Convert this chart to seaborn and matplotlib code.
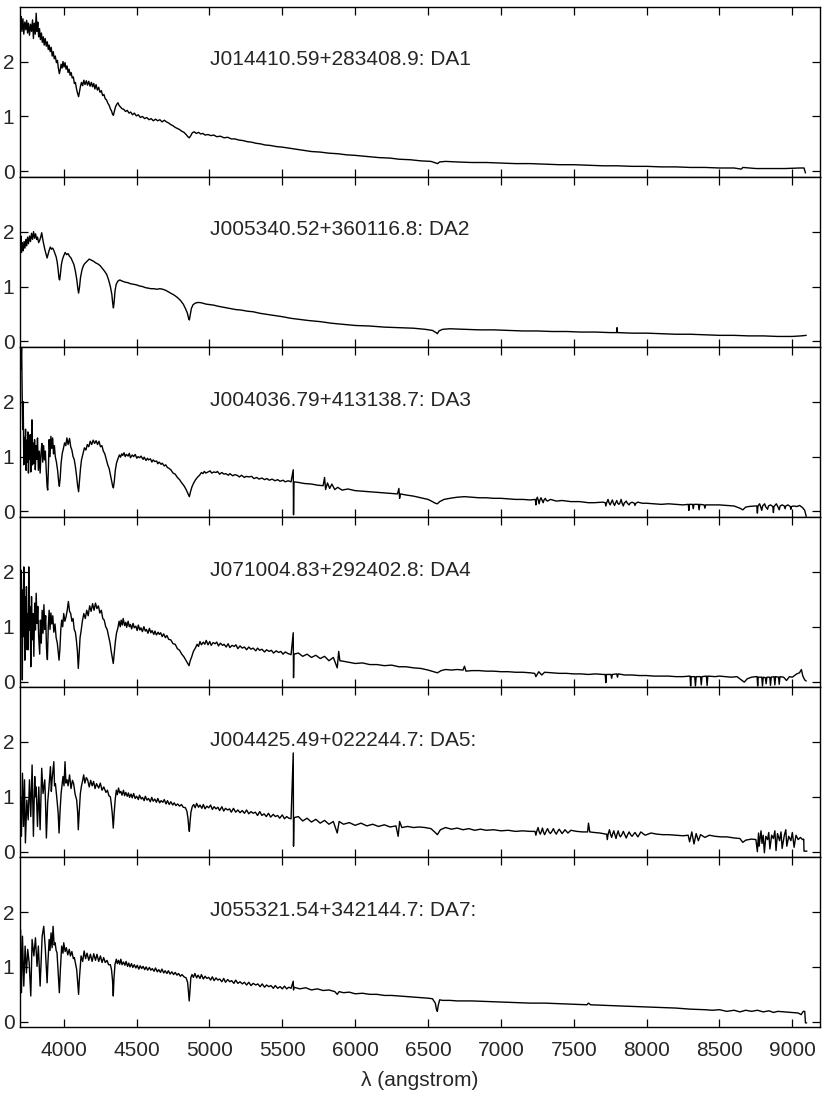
"""
Six stacked white-dwarf spectra (DA1 ... DA7), flux vs wavelength.
Writes out.png
"""
import matplotlib.pyplot as plt
import seaborn as sns

# --- data: (wavelength [A], flux) -------------------------------------------
names = [
    "J014410.59+283408.9: DA1",
    "J005340.52+360116.8: DA2",
    "J004036.79+413138.7: DA3",
    "J071004.83+292402.8: DA4",
    "J004425.49+022244.7: DA5:",
    "J055321.54+342144.7: DA7:",
]

da1 = [
    (3703, 2.70), (3708, 2.82), (3713, 2.55), (3720, 2.78), (3726, 2.50), (3733, 2.72),
    (3740, 2.58), (3746, 2.75), (3752, 2.52), (3758, 2.70), (3765, 2.48), (3772, 2.68),
    (3779, 2.55), (3786, 2.76), (3792, 2.42), (3798, 2.70), (3805, 2.50), (3811, 2.88),
    (3817, 2.55), (3822, 2.72), (3828, 2.45), (3834, 2.60), (3840, 2.40), (3847, 2.52),
    (3853, 2.35), (3860, 2.45), (3866, 2.30), (3873, 2.42), (3880, 2.28), (3887, 2.36),
    (3894, 2.22), (3900, 2.30), (3907, 2.18), (3914, 2.26), (3921, 2.10), (3928, 2.18),
    (3935, 2.05), (3942, 2.10), (3950, 1.98), (3957, 2.02), (3963, 1.88), (3970, 1.78),
    (3976, 1.85), (3982, 1.95), (3989, 1.88), (3995, 2.00), (4002, 1.90), (4009, 1.98),
    (4016, 1.86), (4023, 1.92), (4030, 1.80), (4037, 1.86), (4044, 1.75), (4051, 1.80),
    (4058, 1.70), (4066, 1.72), (4073, 1.60), (4080, 1.62), (4088, 1.50), (4095, 1.42),
    (4102, 1.36), (4108, 1.45), (4115, 1.55), (4122, 1.62), (4130, 1.56), (4138, 1.66),
    (4146, 1.58), (4155, 1.65), (4163, 1.57), (4172, 1.64), (4181, 1.55), (4190, 1.62),
    (4198, 1.54), (4206, 1.60), (4214, 1.50), (4222, 1.58), (4231, 1.48), (4240, 1.53),
    (4249, 1.44), (4258, 1.47), (4267, 1.38), (4276, 1.40), (4285, 1.32), (4294, 1.30),
    (4303, 1.24), (4312, 1.20), (4320, 1.14), (4328, 1.10), (4335, 1.04), (4341, 1.02),
    (4348, 1.10), (4356, 1.18), (4364, 1.22), (4372, 1.25), (4380, 1.20), (4390, 1.17),
    (4400, 1.14), (4412, 1.13), (4424, 1.09), (4436, 1.11), (4448, 1.06), (4460, 1.08),
    (4472, 1.03), (4485, 1.06), (4498, 1.01), (4512, 1.03), (4526, 0.98), (4540, 1.00),
    (4555, 0.96), (4570, 0.98), (4585, 0.94), (4600, 0.96), (4615, 0.92), (4630, 0.95),
    (4645, 0.92), (4660, 0.94), (4675, 0.90), (4690, 0.93), (4705, 0.90), (4720, 0.88),
    (4735, 0.85), (4750, 0.83), (4765, 0.80), (4780, 0.78), (4795, 0.76), (4810, 0.73),
    (4825, 0.71), (4840, 0.67), (4852, 0.63), (4862, 0.61), (4872, 0.65), (4882, 0.70),
    (4895, 0.72), (4910, 0.69), (4925, 0.71), (4940, 0.68), (4955, 0.69), (4970, 0.66),
    (4990, 0.67), (5010, 0.65), (5030, 0.66), (5050, 0.63), (5075, 0.64), (5100, 0.61),
    (5125, 0.62), (5150, 0.59), (5175, 0.59), (5200, 0.57), (5230, 0.56), (5260, 0.54),
    (5290, 0.53), (5320, 0.51), (5350, 0.50), (5380, 0.48), (5420, 0.47), (5460, 0.45),
    (5500, 0.44), (5550, 0.42), (5600, 0.40), (5650, 0.38), (5700, 0.36), (5760, 0.35),
    (5820, 0.33), (5880, 0.32), (5940, 0.30), (6000, 0.29), (6080, 0.27), (6160, 0.25),
    (6240, 0.24), (6300, 0.22), (6380, 0.21), (6450, 0.19), (6520, 0.18), (6555, 0.15),
    (6565, 0.14), (6580, 0.17), (6620, 0.18), (6700, 0.17), (6800, 0.16), (6900, 0.16),
    (7000, 0.15), (7100, 0.14), (7200, 0.14), (7300, 0.13), (7400, 0.12), (7500, 0.12),
    (7600, 0.11), (7700, 0.10), (7800, 0.10), (7900, 0.09), (8000, 0.09), (8100, 0.08),
    (8200, 0.08), (8300, 0.07), (8400, 0.07), (8500, 0.06), (8600, 0.06), (8650, 0.04),
    (8660, 0.07), (8750, 0.05), (8850, 0.05), (8950, 0.05), (9050, 0.06), (9080, 0.06),
    (9090, -0.03),
]

da2 = [
    (3703, 1.72), (3706, 1.92), (3710, 1.62), (3716, 1.80), (3722, 1.65), (3728, 1.82),
    (3734, 1.70), (3740, 1.86), (3746, 1.74), (3752, 1.90), (3758, 1.78), (3765, 1.92),
    (3772, 1.82), (3779, 1.97), (3786, 1.86), (3793, 2.00), (3800, 1.88), (3807, 1.96),
    (3814, 1.86), (3820, 1.90), (3828, 1.80), (3835, 1.84), (3842, 1.90), (3849, 1.98),
    (3855, 1.88), (3862, 1.78), (3870, 1.68), (3878, 1.60), (3886, 1.52), (3892, 1.58),
    (3900, 1.66), (3908, 1.72), (3916, 1.68), (3924, 1.70), (3932, 1.66), (3940, 1.60),
    (3948, 1.54), (3955, 1.45), (3962, 1.30), (3968, 1.14), (3972, 1.12), (3977, 1.22),
    (3984, 1.40), (3992, 1.50), (4000, 1.56), (4010, 1.62), (4020, 1.58), (4030, 1.60),
    (4040, 1.55), (4050, 1.52), (4060, 1.46), (4070, 1.40), (4080, 1.28), (4090, 1.12),
    (4097, 0.96), (4102, 0.88), (4108, 0.98), (4115, 1.16), (4125, 1.30), (4135, 1.38),
    (4145, 1.42), (4160, 1.46), (4175, 1.50), (4190, 1.48), (4205, 1.46), (4220, 1.43),
    (4235, 1.41), (4250, 1.38), (4265, 1.33), (4280, 1.28), (4295, 1.22), (4308, 1.12),
    (4320, 1.00), (4330, 0.86), (4336, 0.70), (4341, 0.61), (4346, 0.72), (4352, 0.92),
    (4360, 1.04), (4372, 1.10), (4385, 1.12), (4400, 1.10), (4420, 1.08), (4440, 1.07),
    (4460, 1.05), (4480, 1.04), (4500, 1.03), (4520, 1.01), (4540, 1.00), (4560, 0.98),
    (4580, 0.97), (4600, 0.96), (4620, 0.96), (4640, 0.95), (4660, 0.96), (4680, 0.95),
    (4700, 0.93), (4720, 0.90), (4740, 0.87), (4760, 0.84), (4780, 0.80), (4800, 0.75),
    (4820, 0.68), (4835, 0.60), (4848, 0.52), (4857, 0.42), (4862, 0.39), (4868, 0.48),
    (4876, 0.60), (4888, 0.67), (4905, 0.70), (4925, 0.71), (4950, 0.70), (4975, 0.68),
    (5000, 0.67), (5030, 0.66), (5060, 0.64), (5100, 0.62), (5140, 0.60), (5180, 0.58),
    (5220, 0.57), (5260, 0.55), (5300, 0.54), (5350, 0.51), (5400, 0.49), (5450, 0.47),
    (5500, 0.45), (5560, 0.42), (5620, 0.40), (5680, 0.38), (5760, 0.36), (5840, 0.33),
    (5920, 0.31), (6000, 0.29), (6100, 0.28), (6200, 0.26), (6300, 0.25), (6400, 0.24),
    (6480, 0.22), (6530, 0.20), (6555, 0.16), (6564, 0.14), (6575, 0.19), (6600, 0.22),
    (6650, 0.23), (6750, 0.22), (6850, 0.21), (6950, 0.21), (7050, 0.20), (7150, 0.19),
    (7250, 0.19), (7350, 0.18), (7450, 0.18), (7550, 0.17), (7650, 0.17), (7750, 0.16),
    (7795, 0.16), (7797, 0.25), (7800, 0.16), (7900, 0.15), (8000, 0.15), (8100, 0.14),
    (8200, 0.13), (8300, 0.13), (8400, 0.12), (8500, 0.11), (8600, 0.11), (8700, 0.10),
    (8800, 0.10), (8900, 0.09), (9000, 0.09), (9060, 0.10), (9095, 0.11),
]

da3 = [
    (3703, 3.30), (3707, 2.60), (3711, 3.10), (3715, 2.10), (3719, 1.50), (3722, 2.00),
    (3726, 0.85), (3730, 1.35), (3734, 0.95), (3738, 1.50), (3742, 0.75), (3746, 1.30),
    (3750, 0.90), (3754, 1.45), (3758, 0.70), (3762, 1.20), (3766, 0.95), (3770, 1.40),
    (3774, 0.72), (3778, 1.15), (3782, 1.67), (3786, 0.85), (3790, 1.25), (3795, 0.88),
    (3800, 1.31), (3805, 0.76), (3810, 1.20), (3815, 0.95), (3820, 1.34), (3826, 0.75),
    (3832, 1.10), (3838, 0.70), (3844, 1.05), (3850, 1.24), (3856, 0.90), (3862, 1.20),
    (3868, 0.94), (3874, 1.10), (3880, 0.75), (3886, 0.45), (3890, 0.39), (3895, 0.80),
    (3900, 1.31), (3906, 1.00), (3912, 1.37), (3918, 1.15), (3924, 1.34), (3930, 1.05),
    (3936, 1.20), (3942, 1.00), (3950, 0.90), (3958, 0.75), (3965, 0.55), (3970, 0.46),
    (3976, 0.62), (3982, 0.88), (3990, 1.06), (3998, 1.15), (4006, 1.25), (4014, 1.20),
    (4022, 1.34), (4030, 1.22), (4040, 1.33), (4048, 1.18), (4056, 1.12), (4064, 1.00),
    (4072, 0.95), (4080, 0.82), (4088, 0.65), (4095, 0.48), (4102, 0.36), (4108, 0.55),
    (4115, 0.78), (4122, 0.94), (4132, 1.05), (4142, 1.16), (4152, 1.12), (4162, 1.22),
    (4172, 1.18), (4182, 1.28), (4192, 1.22), (4202, 1.30), (4212, 1.24), (4222, 1.29),
    (4232, 1.22), (4242, 1.28), (4252, 1.18), (4262, 1.20), (4272, 1.10), (4282, 1.05),
    (4292, 0.95), (4302, 0.85), (4312, 0.78), (4322, 0.65), (4330, 0.55), (4336, 0.46),
    (4341, 0.43), (4347, 0.55), (4354, 0.75), (4362, 0.88), (4372, 0.96), (4382, 1.03),
    (4390, 0.99), (4398, 1.05), (4405, 1.02), (4414, 1.07), (4422, 1.00), (4430, 1.04),
    (4442, 1.01), (4450, 1.06), (4458, 0.98), (4470, 1.03), (4480, 1.00), (4490, 1.04),
    (4502, 0.97), (4510, 1.00), (4522, 0.98), (4530, 1.01), (4545, 0.95), (4552, 0.99),
    (4565, 0.93), (4575, 0.97), (4582, 0.94), (4595, 0.96), (4605, 0.90), (4614, 0.94),
    (4625, 0.91), (4638, 0.92), (4645, 0.87), (4655, 0.90), (4668, 0.86), (4676, 0.88),
    (4690, 0.83), (4700, 0.85), (4712, 0.80), (4720, 0.79), (4735, 0.76), (4750, 0.70),
    (4765, 0.68), (4780, 0.62), (4795, 0.58), (4810, 0.52), (4825, 0.47), (4840, 0.40),
    (4852, 0.33), (4862, 0.27), (4870, 0.36), (4880, 0.45), (4892, 0.52), (4905, 0.58),
    (4920, 0.63), (4932, 0.66), (4945, 0.71), (4955, 0.69), (4965, 0.73), (4975, 0.70),
    (4990, 0.72), (5005, 0.74), (5015, 0.70), (5030, 0.72), (5045, 0.71), (5055, 0.73),
    (5070, 0.68), (5085, 0.71), (5100, 0.68), (5112, 0.69), (5130, 0.66), (5140, 0.69),
    (5160, 0.65), (5172, 0.67), (5190, 0.66), (5205, 0.63), (5220, 0.66), (5240, 0.62),
    (5252, 0.64), (5270, 0.63), (5290, 0.64), (5305, 0.60), (5325, 0.62), (5340, 0.59),
    (5360, 0.61), (5378, 0.58), (5395, 0.60), (5410, 0.57), (5430, 0.59), (5450, 0.56),
    (5468, 0.58), (5485, 0.55), (5505, 0.57), (5520, 0.54), (5540, 0.56), (5560, 0.54),
    (5575, 0.76), (5577, -0.06), (5580, 0.54), (5610, 0.53), (5650, 0.51), (5700, 0.50),
    (5740, 0.48), (5780, 0.47), (5790, 0.62), (5797, 0.40), (5810, 0.52), (5825, 0.42),
    (5840, 0.50), (5860, 0.40), (5880, 0.44), (5910, 0.39), (5950, 0.41), (6000, 0.38),
    (6050, 0.37), (6100, 0.36), (6150, 0.35), (6200, 0.34), (6250, 0.33), (6290, 0.32),
    (6300, 0.42), (6305, 0.24), (6310, 0.32), (6350, 0.30), (6400, 0.28), (6450, 0.25),
    (6500, 0.22), (6530, 0.18), (6550, 0.15), (6564, 0.14), (6580, 0.18), (6610, 0.22),
    (6650, 0.24), (6700, 0.26), (6750, 0.27), (6800, 0.26), (6850, 0.25), (6900, 0.25),
    (6950, 0.24), (7000, 0.24), (7050, 0.23), (7100, 0.22), (7150, 0.22), (7200, 0.21),
    (7230, 0.22), (7236, 0.22), (7240, 0.12), (7244, 0.22), (7250, 0.26), (7256, 0.21),
    (7262, 0.14), (7268, 0.21), (7275, 0.25), (7282, 0.21), (7290, 0.16), (7296, 0.21),
    (7305, 0.24), (7312, 0.20), (7320, 0.19), (7340, 0.22), (7380, 0.19), (7420, 0.20),
    (7480, 0.18), (7540, 0.18), (7600, 0.16), (7640, 0.16), (7700, 0.17), (7716, 0.16),
    (7720, 0.10), (7726, 0.16), (7735, 0.22), (7742, 0.16), (7750, 0.12), (7756, 0.16),
    (7765, 0.21), (7772, 0.15), (7780, 0.11), (7786, 0.15), (7795, 0.20), (7802, 0.15),
    (7810, 0.13), (7816, 0.15), (7825, 0.22), (7832, 0.15), (7840, 0.10), (7846, 0.15),
    (7860, 0.19), (7868, 0.15), (7880, 0.12), (7886, 0.15), (7900, 0.17), (7915, 0.15),
    (7920, 0.11), (7926, 0.15), (7940, 0.17), (7970, 0.15), (8000, 0.15), (8050, 0.14),
    (8100, 0.13), (8150, 0.14), (8200, 0.13), (8250, 0.12), (8280, 0.13), (8286, 0.13),
    (8290, 0.02), (8294, 0.13), (8315, 0.13), (8320, 0.05), (8325, 0.13), (8355, 0.13),
    (8360, 0.03), (8365, 0.13), (8395, 0.12), (8400, 0.06), (8405, 0.12), (8450, 0.12),
    (8500, 0.12), (8550, 0.11), (8600, 0.10), (8640, 0.06), (8660, 0.03), (8680, 0.08),
    (8700, 0.09), (8740, 0.10), (8756, 0.10), (8760, -0.03), (8764, 0.10), (8775, 0.14),
    (8782, 0.09), (8790, 0.02), (8796, 0.10), (8810, 0.14), (8816, 0.09), (8830, 0.04),
    (8836, 0.10), (8850, 0.12), (8866, 0.09), (8870, -0.02), (8874, 0.09), (8890, 0.14),
    (8898, 0.10), (8910, 0.03), (8916, 0.10), (8930, 0.12), (8945, 0.10), (8950, 0.05),
    (8955, 0.10), (8970, 0.12), (8986, 0.09), (8990, 0.04), (8994, 0.09), (9010, 0.10),
    (9030, 0.09), (9050, 0.11), (9070, 0.07), (9085, 0.02), (9095, -0.09),
]

da4 = [
    (3703, 1.85), (3706, 0.82), (3709, 2.03), (3712, 1.31), (3716, 0.03), (3719, 1.67),
    (3722, 0.82), (3726, 2.09), (3730, 1.12), (3733, 0.39), (3737, 1.55), (3741, 0.82),
    (3744, 1.73), (3749, 0.58), (3753, 1.24), (3757, 0.58), (3760, 2.09), (3765, 0.94),
    (3770, 1.37), (3774, 0.27), (3779, 1.55), (3784, 0.76), (3790, 1.24), (3795, 0.46),
    (3801, 1.43), (3806, 0.94), (3811, 1.61), (3817, 1.06), (3822, 1.37), (3828, 0.82),
    (3835, 0.50), (3840, 1.12), (3846, 0.70), (3852, 1.30), (3858, 0.88), (3864, 1.40),
    (3870, 0.95), (3876, 1.20), (3882, 0.60), (3888, 0.40), (3894, 1.00), (3900, 1.30),
    (3906, 0.95), (3912, 1.25), (3918, 1.05), (3925, 1.20), (3932, 0.90), (3940, 1.05),
    (3948, 0.80), (3956, 0.70), (3962, 0.55), (3968, 0.39), (3974, 0.60), (3980, 0.95),
    (3986, 1.12), (3993, 1.00), (4000, 1.24), (4008, 1.10), (4016, 1.18), (4024, 1.30),
    (4032, 1.46), (4040, 1.28), (4048, 1.24), (4056, 1.10), (4064, 1.15), (4072, 0.95),
    (4080, 0.90), (4087, 0.75), (4094, 0.55), (4100, 0.24), (4106, 0.50), (4112, 0.80),
    (4118, 0.90), (4128, 1.10), (4138, 1.24), (4148, 1.15), (4158, 1.30), (4168, 1.20),
    (4178, 1.38), (4188, 1.28), (4198, 1.42), (4208, 1.30), (4218, 1.43), (4228, 1.33),
    (4238, 1.38), (4248, 1.25), (4258, 1.30), (4268, 1.15), (4278, 1.12), (4288, 1.00),
    (4298, 0.95), (4308, 0.82), (4318, 0.70), (4326, 0.55), (4334, 0.42), (4340, 0.33),
    (4346, 0.50), (4354, 0.72), (4362, 0.88), (4372, 0.98), (4380, 1.10), (4388, 1.00),
    (4394, 1.12), (4402, 1.03), (4408, 1.15), (4418, 1.02), (4426, 1.08), (4432, 0.99),
    (4442, 1.10), (4450, 1.00), (4458, 1.04), (4466, 0.96), (4476, 1.06), (4484, 0.98),
    (4495, 1.01), (4504, 0.93), (4512, 1.03), (4522, 0.94), (4530, 0.98), (4540, 0.91),
    (4550, 1.00), (4560, 0.92), (4568, 0.95), (4578, 0.88), (4588, 0.97), (4598, 0.89),
    (4606, 0.93), (4618, 0.86), (4626, 0.92), (4636, 0.85), (4648, 0.90), (4656, 0.86),
    (4665, 0.89), (4676, 0.82), (4686, 0.87), (4698, 0.80), (4708, 0.84), (4720, 0.77),
    (4735, 0.76), (4750, 0.69), (4765, 0.68), (4780, 0.60), (4795, 0.57), (4810, 0.50),
    (4825, 0.45), (4840, 0.38), (4852, 0.32), (4860, 0.29), (4868, 0.38), (4878, 0.45),
    (4890, 0.55), (4905, 0.62), (4915, 0.68), (4925, 0.64), (4935, 0.73), (4945, 0.67),
    (4958, 0.72), (4968, 0.68), (4978, 0.75), (4990, 0.67), (5002, 0.73), (5012, 0.66),
    (5025, 0.71), (5040, 0.69), (5050, 0.72), (5062, 0.65), (5075, 0.70), (5090, 0.66),
    (5100, 0.68), (5115, 0.63), (5128, 0.69), (5140, 0.62), (5155, 0.66), (5170, 0.64),
    (5182, 0.67), (5195, 0.60), (5210, 0.65), (5225, 0.61), (5240, 0.63), (5255, 0.58),
    (5270, 0.63), (5285, 0.59), (5300, 0.61), (5318, 0.56), (5330, 0.61), (5345, 0.57),
    (5360, 0.59), (5378, 0.54), (5392, 0.58), (5410, 0.55), (5425, 0.57), (5440, 0.52),
    (5458, 0.56), (5475, 0.53), (5490, 0.55), (5505, 0.50), (5520, 0.54), (5540, 0.51),
    (5560, 0.49), (5575, 0.89), (5577, 0.07), (5580, 0.50), (5610, 0.52), (5640, 0.46),
    (5670, 0.50), (5700, 0.44), (5730, 0.48), (5760, 0.42), (5790, 0.46), (5820, 0.38),
    (5850, 0.44), (5877, 0.25), (5887, 0.55), (5895, 0.38), (5920, 0.37), (5960, 0.35),
    (6000, 0.33), (6050, 0.34), (6100, 0.31), (6150, 0.31), (6200, 0.29), (6250, 0.30),
    (6300, 0.27), (6350, 0.27), (6400, 0.25), (6450, 0.24), (6500, 0.21), (6540, 0.18),
    (6564, 0.16), (6590, 0.20), (6620, 0.22), (6660, 0.21), (6700, 0.22), (6740, 0.21),
    (6750, 0.28), (6760, 0.19), (6800, 0.20), (6850, 0.20), (6900, 0.19), (6950, 0.19),
    (7000, 0.18), (7050, 0.18), (7100, 0.17), (7150, 0.17), (7200, 0.16), (7232, 0.15),
    (7240, 0.09), (7260, 0.18), (7280, 0.12), (7300, 0.17), (7350, 0.16), (7400, 0.15),
    (7450, 0.15), (7500, 0.14), (7550, 0.14), (7600, 0.13), (7650, 0.14), (7700, 0.13),
    (7716, 0.13), (7720, -0.02), (7724, 0.13), (7755, 0.13), (7760, 0.06), (7765, 0.13),
    (7795, 0.14), (7800, 0.08), (7805, 0.14), (7850, 0.12), (7900, 0.12), (7950, 0.11),
    (8000, 0.11), (8050, 0.10), (8100, 0.10), (8150, 0.10), (8200, 0.09), (8250, 0.09),
    (8290, 0.10), (8298, 0.10), (8302, -0.08), (8306, 0.09), (8330, 0.09), (8335, -0.08),
    (8340, 0.09), (8370, 0.09), (8375, -0.06), (8380, 0.09), (8410, 0.10), (8415, -0.07),
    (8420, 0.10), (8470, 0.09), (8500, 0.10), (8540, 0.09), (8580, 0.08), (8620, 0.09),
    (8650, 0.03), (8670, -0.01), (8690, 0.05), (8720, 0.08), (8750, 0.09), (8758, 0.09),
    (8762, -0.08), (8766, 0.08), (8790, 0.08), (8795, -0.08), (8800, 0.08), (8815, 0.07),
    (8820, -0.04), (8825, 0.08), (8845, 0.08), (8850, -0.07), (8855, 0.08), (8875, 0.09),
    (8880, -0.06), (8885, 0.09), (8905, 0.08), (8910, -0.05), (8915, 0.09), (8940, 0.08),
    (8960, 0.02), (8980, 0.09), (9000, 0.08), (9030, 0.14), (9049, 0.16), (9062, 0.22),
    (9072, 0.10), (9085, 0.03), (9095, 0.01),
]

da5 = [
    (3703, 1.00), (3710, 0.28), (3717, 1.43), (3724, 0.46), (3731, 1.31), (3737, 0.16),
    (3747, 0.94), (3756, 0.58), (3765, 1.31), (3774, 0.64), (3783, 1.58), (3792, 0.28),
    (3801, 1.37), (3806, 1.00), (3811, 1.18), (3820, 0.46), (3829, 1.18), (3838, 0.40),
    (3849, 1.52), (3858, 1.06), (3870, 1.31), (3875, 0.90), (3881, 0.25), (3890, 0.90),
    (3897, 1.12), (3905, 1.40), (3909, 1.55), (3915, 1.10), (3920, 1.31), (3927, 1.50),
    (3932, 1.64), (3937, 1.20), (3943, 1.24), (3950, 1.05), (3954, 0.94), (3962, 0.70),
    (3968, 0.34), (3975, 0.75), (3982, 1.06), (3990, 1.25), (3995, 1.37), (4002, 1.20),
    (4009, 1.64), (4015, 1.25), (4023, 1.31), (4030, 1.20), (4040, 1.40), (4050, 1.15),
    (4060, 1.30), (4068, 1.24), (4078, 1.05), (4089, 0.94), (4096, 0.70), (4100, 0.40),
    (4106, 0.70), (4114, 1.06), (4122, 1.20), (4130, 1.30), (4137, 1.40), (4145, 1.25),
    (4155, 1.35), (4164, 1.31), (4175, 1.18), (4185, 1.30), (4195, 1.20), (4205, 1.28),
    (4215, 1.15), (4225, 1.24), (4240, 1.16), (4251, 1.25), (4263, 1.12), (4275, 1.18),
    (4290, 1.08), (4300, 1.12), (4310, 1.02), (4320, 1.00), (4326, 0.88), (4333, 0.70),
    (4340, 0.43), (4346, 0.70), (4354, 0.97), (4361, 1.12), (4368, 1.04), (4376, 1.16),
    (4384, 1.07), (4392, 1.10), (4400, 1.03), (4410, 1.12), (4418, 1.02), (4426, 1.08),
    (4436, 1.01), (4444, 1.07), (4452, 0.99), (4462, 1.05), (4470, 0.98), (4480, 1.06),
    (4490, 0.97), (4500, 1.01), (4512, 0.95), (4520, 1.03), (4532, 0.96), (4540, 0.99),
    (4552, 0.93), (4560, 1.01), (4572, 0.94), (4582, 0.97), (4594, 0.91), (4604, 0.99),
    (4614, 0.92), (4625, 0.96), (4636, 0.90), (4646, 0.97), (4658, 0.89), (4668, 0.93),
    (4680, 0.90), (4690, 0.95), (4702, 0.87), (4712, 0.93), (4724, 0.86), (4735, 0.91),
    (4748, 0.85), (4758, 0.89), (4770, 0.84), (4782, 0.87), (4795, 0.83), (4808, 0.86),
    (4820, 0.81), (4835, 0.80), (4845, 0.74), (4852, 0.62), (4858, 0.45), (4862, 0.37),
    (4867, 0.55), (4873, 0.72), (4882, 0.82), (4892, 0.86), (4902, 0.80), (4912, 0.88),
    (4925, 0.81), (4935, 0.85), (4948, 0.79), (4958, 0.86), (4970, 0.78), (4982, 0.83),
    (4995, 0.80), (5008, 0.85), (5020, 0.77), (5032, 0.82), (5045, 0.78), (5058, 0.81),
    (5070, 0.75), (5085, 0.82), (5098, 0.74), (5110, 0.79), (5125, 0.76), (5138, 0.78),
    (5150, 0.72), (5165, 0.79), (5180, 0.72), (5195, 0.76), (5210, 0.71), (5225, 0.75),
    (5240, 0.70), (5255, 0.76), (5270, 0.69), (5285, 0.73), (5300, 0.70), (5315, 0.72),
    (5330, 0.66), (5345, 0.73), (5360, 0.66), (5375, 0.69), (5390, 0.64), (5405, 0.70),
    (5420, 0.63), (5438, 0.68), (5452, 0.64), (5468, 0.66), (5482, 0.61), (5500, 0.67),
    (5515, 0.60), (5530, 0.64), (5545, 0.61), (5560, 0.60), (5575, 1.80), (5577, 0.10),
    (5580, 0.62), (5610, 0.64), (5640, 0.56), (5670, 0.61), (5700, 0.54), (5730, 0.59),
    (5760, 0.52), (5790, 0.57), (5820, 0.50), (5850, 0.55), (5877, 0.34), (5890, 0.55),
    (5920, 0.50), (5960, 0.53), (6000, 0.48), (6040, 0.52), (6080, 0.47), (6120, 0.50),
    (6160, 0.46), (6200, 0.49), (6240, 0.45), (6280, 0.47), (6295, 0.28), (6305, 0.55),
    (6320, 0.44), (6360, 0.46), (6400, 0.44), (6440, 0.45), (6480, 0.44), (6520, 0.42),
    (6545, 0.36), (6564, 0.31), (6585, 0.40), (6620, 0.44), (6660, 0.41), (6700, 0.43),
    (6740, 0.40), (6780, 0.42), (6820, 0.39), (6860, 0.41), (6900, 0.39), (6950, 0.40),
    (7000, 0.38), (7050, 0.39), (7100, 0.37), (7150, 0.38), (7200, 0.37), (7234, 0.37),
    (7240, 0.30), (7246, 0.37), (7255, 0.44), (7262, 0.37), (7270, 0.32), (7278, 0.37),
    (7285, 0.43), (7292, 0.36), (7300, 0.31), (7310, 0.37), (7320, 0.42), (7330, 0.36),
    (7340, 0.33), (7350, 0.37), (7360, 0.42), (7370, 0.36), (7380, 0.32), (7390, 0.37),
    (7400, 0.41), (7420, 0.33), (7440, 0.40), (7460, 0.34), (7480, 0.39), (7520, 0.37),
    (7560, 0.36), (7595, 0.36), (7601, 0.52), (7610, 0.36), (7640, 0.35), (7680, 0.34),
    (7720, 0.32), (7726, 0.32), (7730, 0.22), (7736, 0.32), (7745, 0.40), (7752, 0.32),
    (7760, 0.26), (7766, 0.32), (7775, 0.38), (7782, 0.31), (7790, 0.24), (7796, 0.31),
    (7805, 0.38), (7812, 0.31), (7820, 0.27), (7830, 0.31), (7840, 0.37), (7850, 0.31),
    (7860, 0.25), (7870, 0.31), (7880, 0.36), (7890, 0.31), (7900, 0.28), (7920, 0.35),
    (7940, 0.27), (7960, 0.36), (7990, 0.30), (8030, 0.34), (8070, 0.32), (8110, 0.31),
    (8150, 0.31), (8200, 0.30), (8250, 0.29), (8285, 0.30), (8295, 0.18), (8310, 0.36),
    (8325, 0.14), (8340, 0.33), (8355, 0.20), (8370, 0.31), (8400, 0.26), (8430, 0.30),
    (8470, 0.28), (8510, 0.27), (8550, 0.27), (8600, 0.25), (8640, 0.24), (8660, 0.17),
    (8680, 0.21), (8720, 0.23), (8750, 0.22), (8760, 0.00), (8768, 0.34), (8772, 0.10),
    (8785, 0.38), (8792, 0.15), (8800, 0.30), (8808, -0.02), (8818, 0.28), (8830, 0.22),
    (8838, 0.35), (8846, 0.05), (8858, 0.30), (8870, 0.24), (8880, 0.38), (8888, 0.02),
    (8898, 0.33), (8912, 0.20), (8922, 0.36), (8930, 0.06), (8945, 0.30), (8955, 0.40),
    (8962, 0.10), (8975, 0.28), (8990, 0.20), (9000, 0.35), (9012, 0.08), (9025, 0.30),
    (9040, 0.22), (9055, 0.26), (9070, 0.22), (9078, 0.23), (9080, 0.01), (9100, 0.01),
]

da7 = [
    (3701, 0.10), (3703, 1.68), (3710, 0.53), (3717, 1.56), (3726, 0.65), (3735, 1.38),
    (3744, 0.89), (3753, 1.32), (3763, 1.07), (3774, 0.47), (3783, 1.50), (3795, 1.20),
    (3806, 1.53), (3817, 1.01), (3826, 1.38), (3838, 0.65), (3852, 1.56), (3863, 1.74),
    (3874, 1.32), (3880, 1.00), (3886, 0.71), (3892, 1.10), (3900, 1.50), (3906, 1.30),
    (3913, 1.62), (3920, 1.35), (3927, 1.74), (3934, 1.40), (3941, 1.44), (3948, 1.30),
    (3954, 1.26), (3962, 0.90), (3970, 0.53), (3977, 0.95), (3986, 1.38), (3995, 1.25),
    (4000, 1.44), (4010, 1.28), (4018, 1.35), (4028, 1.22), (4038, 1.32), (4046, 1.20),
    (4056, 1.28), (4066, 1.15), (4073, 1.17), (4082, 1.05), (4089, 0.95), (4096, 0.70),
    (4102, 0.50), (4108, 0.80), (4119, 1.20), (4130, 1.10), (4140, 1.29), (4150, 1.15),
    (4160, 1.25), (4172, 1.12), (4183, 1.23), (4195, 1.10), (4206, 1.24), (4218, 1.12),
    (4228, 1.23), (4240, 1.10), (4252, 1.20), (4263, 1.08), (4274, 1.17), (4285, 1.08),
    (4297, 1.12), (4308, 1.04), (4320, 1.04), (4328, 0.95), (4335, 0.75), (4340, 0.47),
    (4345, 0.80), (4352, 1.05), (4361, 1.14), (4368, 1.06), (4376, 1.12), (4384, 1.05),
    (4392, 1.14), (4400, 1.04), (4410, 1.09), (4420, 1.03), (4428, 1.10), (4438, 1.01),
    (4446, 1.07), (4455, 1.00), (4465, 1.06), (4474, 0.99), (4484, 1.04), (4495, 0.98),
    (4505, 1.03), (4515, 0.96), (4525, 1.02), (4535, 0.97), (4545, 1.01), (4556, 0.95),
    (4566, 1.00), (4576, 0.94), (4588, 0.99), (4598, 0.94), (4608, 0.97), (4620, 0.92),
    (4630, 0.98), (4642, 0.91), (4652, 0.95), (4664, 0.90), (4674, 0.96), (4686, 0.89),
    (4696, 0.93), (4708, 0.88), (4718, 0.93), (4730, 0.87), (4742, 0.91), (4754, 0.86),
    (4765, 0.90), (4777, 0.85), (4788, 0.88), (4800, 0.83), (4812, 0.86), (4825, 0.82),
    (4840, 0.80), (4850, 0.72), (4856, 0.55), (4861, 0.38), (4866, 0.55), (4872, 0.80),
    (4880, 0.86), (4890, 0.81), (4900, 0.88), (4912, 0.80), (4922, 0.85), (4935, 0.79),
    (4945, 0.86), (4958, 0.78), (4970, 0.83), (4982, 0.79), (4995, 0.81), (5008, 0.76),
    (5020, 0.82), (5032, 0.75), (5045, 0.80), (5058, 0.76), (5070, 0.78), (5085, 0.73),
    (5098, 0.79), (5110, 0.72), (5125, 0.77), (5140, 0.73), (5152, 0.75), (5168, 0.70),
    (5180, 0.76), (5195, 0.70), (5210, 0.73), (5225, 0.69), (5240, 0.72), (5255, 0.67),
    (5270, 0.72), (5285, 0.66), (5300, 0.70), (5318, 0.67), (5332, 0.69), (5348, 0.64),
    (5362, 0.69), (5378, 0.63), (5392, 0.67), (5408, 0.64), (5422, 0.66), (5438, 0.61),
    (5452, 0.66), (5468, 0.61), (5485, 0.64), (5500, 0.60), (5515, 0.65), (5530, 0.60),
    (5545, 0.63), (5560, 0.61), (5575, 0.74), (5577, 0.58), (5580, 0.63), (5620, 0.60),
    (5660, 0.62), (5700, 0.58), (5740, 0.60), (5780, 0.57), (5820, 0.58), (5860, 0.55),
    (5877, 0.50), (5890, 0.55), (5920, 0.53), (5960, 0.54), (6000, 0.51), (6050, 0.52),
    (6100, 0.50), (6150, 0.50), (6200, 0.48), (6250, 0.48), (6300, 0.47), (6350, 0.46),
    (6400, 0.45), (6450, 0.44), (6500, 0.43), (6530, 0.42), (6550, 0.34), (6558, 0.22),
    (6564, 0.19), (6570, 0.30), (6580, 0.40), (6600, 0.39), (6650, 0.39), (6700, 0.38),
    (6800, 0.38), (6900, 0.37), (7000, 0.36), (7100, 0.35), (7200, 0.34), (7300, 0.34),
    (7400, 0.33), (7500, 0.32), (7590, 0.31), (7601, 0.34), (7615, 0.31), (7700, 0.30),
    (7800, 0.29), (7900, 0.28), (8000, 0.27), (8100, 0.26), (8200, 0.25), (8300, 0.23),
    (8400, 0.22), (8450, 0.21), (8500, 0.22), (8550, 0.19), (8600, 0.21), (8640, 0.18),
    (8680, 0.21), (8720, 0.19), (8760, 0.21), (8800, 0.18), (8840, 0.20), (8870, 0.17),
    (8900, 0.19), (8950, 0.18), (9000, 0.17), (9040, 0.16), (9060, 0.13), (9075, 0.19),
    (9085, 0.19), (9090, -0.02), (9098, -0.02),
]

spectra = [da1, da2, da3, da4, da5, da7]
x_ticks = [4000, 4500, 5000, 5500, 6000, 6500, 7000, 7500, 8000, 8500, 9000]
y_ticks = [0, 1, 2]


def main():
    sns.set_style("ticks")
    plt.rcParams["font.family"] = ["Liberation Sans", "DejaVu Sans"]

    fig, axes = plt.subplots(6, 1, figsize=(8.3, 10.94), dpi=100, sharex=True)
    fig.subplots_adjust(left=0.0241, right=0.988, top=0.9939, bottom=0.061, hspace=0)

    for ax, spec, name in zip(axes, spectra, names):
        wave = [w for w, _ in spec]
        flux = [f for _, f in spec]
        sns.lineplot(x=wave, y=flux, ax=ax, color="black", linewidth=1.0,
                     estimator=None, sort=False)
        ax.set_xlim(3700, 9190)
        ax.set_ylim(-0.1, 3.0)
        ax.set_xticks(x_ticks)
        ax.set_yticks(y_ticks)
        ax.tick_params(direction="in", top=True, right=True, length=6, width=0.9,
                       labelsize=15, color="black")
        ax.tick_params(axis="y", pad=4)
        ax.tick_params(axis="x", pad=10)
        for s in ax.spines.values():
            s.set_linewidth(1.0)
            s.set_color("black")
        ax.text(0.2375, 1.93, name, transform=ax.get_yaxis_transform(),
                fontsize=15, va="baseline", ha="left")

    axes[-1].set_xlabel("λ (angstrom)", fontsize=15, labelpad=8)

    plt.savefig("out.png", dpi=100)
    plt.close()


if __name__ == "__main__":
    main()
